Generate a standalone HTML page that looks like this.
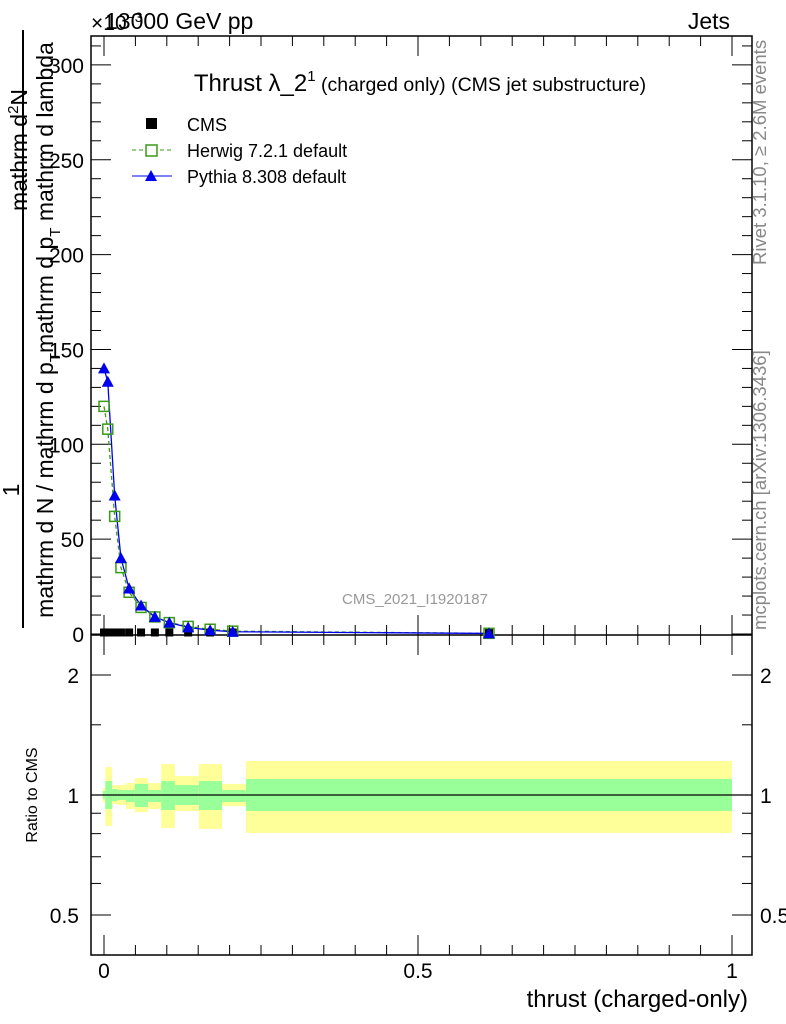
<!DOCTYPE html>
<html><head><meta charset="utf-8"><style>
body{margin:0;background:#fff}
svg{display:block;font-family:"Liberation Sans",sans-serif}
</style></head><body>
<svg id="c" width="786" height="1024" viewBox="0 0 786 1024">
<rect x="0" y="0" width="786" height="1024" fill="#fff"/>
<g id="bands"></g>
<g id="frame"></g>
<g id="series"></g>
<g id="labels">
<text x="91" y="30" font-size="21">×10<tspan font-size="14" dy="-8">−3</tspan></text>
<text x="105" y="29" font-size="23">13000 GeV pp</text>
<text x="730" y="29" font-size="23" text-anchor="end">Jets</text>
<text x="420" y="91" font-size="24" text-anchor="middle">Thrust λ_2<tspan font-size="15" dy="-10">1</tspan><tspan font-size="19.5" dy="10"> (charged only) (CMS jet substructure)</tspan></text>
<text x="415" y="604" font-size="15" fill="#999" text-anchor="middle">CMS_2021_I1920187</text>
<text transform="translate(766,265) rotate(-90)" font-size="18.5" fill="#888">Rivet 3.1.10, ≥ 2.6M events</text>
<text transform="translate(766,630) rotate(-90)" font-size="18.5" fill="#888">mcplots.cern.ch [arXiv:1306.3436]</text>
<text transform="translate(37,795) rotate(-90)" font-size="16" text-anchor="middle">Ratio to CMS</text>
<text x="748" y="1007" font-size="24" text-anchor="end">thrust (charged-only)</text>
<g>
<text transform="translate(19,490) rotate(-90)" font-size="23" text-anchor="middle">1</text>
<line x1="23" y1="30" x2="23" y2="628" stroke="#000" stroke-width="2"/>
<text transform="translate(27,150) rotate(-90)" font-size="23" text-anchor="middle">mathrm d<tspan font-size="15" dy="-9">2</tspan><tspan dy="9">N</tspan></text>
<text transform="translate(53,330) rotate(-90)" font-size="23" text-anchor="middle">mathrm d N / mathrm d p<tspan font-size="15" dy="7">T</tspan><tspan dy="-7">mathrm d p</tspan><tspan font-size="15" dy="7">T</tspan><tspan dy="-7"> mathrm d lambda</tspan></text>
</g>
<g>
<rect x="146" y="118" width="11" height="11" fill="#000"/>
<text x="187" y="131" font-size="18">CMS</text>
<line x1="132" y1="150" x2="172" y2="150" stroke="#3a9a16" stroke-dasharray="4,3"/>
<rect x="146" y="145" width="11" height="11" fill="#fff" stroke="#3a9a16" stroke-width="1.5"/>
<text x="187" y="157" font-size="18">Herwig 7.2.1 default</text>
<line x1="132" y1="176" x2="172" y2="176" stroke="#0000ee"/>
<polygon points="151,170 157,181 145,181" fill="#0000ee"/>
<text x="187" y="183" font-size="18">Pythia 8.308 default</text>
</g>
</g>
</svg>
<script>
const xs=[0.0,0.006,0.017,0.027,0.04,0.059,0.081,0.104,0.134,0.169,0.205,0.613];
const pythia=[140,133,73,40,24,15,9,6,3.5,2,1.2,0.3];
const herwig=[120,108,62,35,22,14,9,6,4,2.5,1.5,0.35];
const cms=[0.8,0.8,0.8,0.8,0.8,0.8,0.8,0.8,0.8,0.8,0.8,0.5];
const binEdges=[-0.002,0.002,0.013,0.022,0.035,0.049,0.07,0.091,0.113,0.151,0.188,0.226,1.0];
const yelHi=[1.041,1.175,1.059,1.059,1.072,1.103,1.072,1.196,1.116,1.196,1.066,1.217];
const yelLo=[0.96,0.836,0.949,0.944,0.922,0.906,0.922,0.826,0.912,0.822,0.938,0.803];
const grnHi=[1.023,1.084,1.035,1.029,1.029,1.066,1.029,1.084,1.059,1.084,1.029,1.097];
const grnLo=[0.977,0.922,0.966,0.972,0.96,0.933,0.96,0.917,0.944,0.917,0.96,0.912];
const yTicks=[0,50,100,150,200,250,300];
const rTicks=[0.5,1,2];
const xTicks=[0,0.5,1];
const NS='http://www.w3.org/2000/svg';
const X=v=>104+628*v;
const Y=v=>634-1.897*v;
const R=v=>795-120*Math.log2(v);
const L=91,Rt=752,T=36,MB=635,RB=955;
function mk(t,a,p){const e=document.createElementNS(NS,t);for(const k in a)e.setAttribute(k,a[k]);(p||document.getElementById('series')).appendChild(e);return e;}
const bg=document.getElementById('bands');
for(let i=0;i<binEdges.length-1;i++){
 const x1=X(binEdges[i]),x2=X(binEdges[i+1]);
 const y=mk('rect',{x:x1,y:R(yelHi[i]),width:x2-x1,height:R(yelLo[i])-R(yelHi[i]),fill:'#ffff99'},bg);
 
 
 const g=mk('rect',{x:x1,y:R(grnHi[i]),width:x2-x1,height:R(grnLo[i])-R(grnHi[i]),fill:'#99ff99'},bg);
 
 
}
mk('line',{x1:L,y1:R(1),x2:Rt,y2:R(1),stroke:'#000','stroke-width':1.2},bg);
const fr=document.getElementById('frame');
mk('rect',{x:L,y:T,width:Rt-L,height:RB-T,fill:'none',stroke:'#000','stroke-width':1.5},fr);
mk('line',{x1:L,y1:MB,x2:Rt,y2:MB,stroke:'#000','stroke-width':1.5},fr);
for(let v=0;v<=320;v+=10){const y=Y(v);if(y<T)break;const len=v%50===0?20:10;
 mk('line',{x1:L,y1:y,x2:L+len,y2:y,stroke:'#000'},fr);mk('line',{x1:Rt,y1:y,x2:Rt-len,y2:y,stroke:'#000'},fr);}
yTicks.forEach(v=>{const t=mk('text',{x:84,y:Y(v)+8,'font-size':21,'text-anchor':'end'},fr);t.textContent=v;
 
 });
[0.5,0.6,0.7,0.8,0.9,1,1.5,2].forEach(v=>{const y=R(v);const len=rTicks.includes(v)?20:10;
 mk('line',{x1:L,y1:y,x2:L+len,y2:y,stroke:'#000'},fr);mk('line',{x1:Rt,y1:y,x2:Rt-len,y2:y,stroke:'#000'},fr);});
rTicks.forEach(v=>{const t=mk('text',{x:79,y:R(v)+8,'font-size':21,'text-anchor':'end'},fr);t.textContent=v;
 
 
 const t2=mk('text',{x:760,y:R(v)+8,'font-size':21},fr);t2.textContent=v;
 
 });
for(let k=0;k<=20;k++){const v=k*0.05;const x=X(v);const len=k%10===0?20:10;
 [T,MB].forEach(y0=>mk('line',{x1:x,y1:y0,x2:x,y2:y0+len,stroke:'#000'},fr));
 [MB,RB].forEach(y0=>mk('line',{x1:x,y1:y0,x2:x,y2:y0-len,stroke:'#000'},fr));}
xTicks.forEach(v=>{const t=mk('text',{x:X(v),y:978,'font-size':21,'text-anchor':'middle'},fr);t.textContent=v;
 
 });
const hp=mk('polyline',{points:xs.map((x,i)=>X(x)+','+Y(herwig[i])).join(' '),fill:'none',stroke:'#3a9a16','stroke-width':1.3,'stroke-dasharray':'4,3'});


const pp=mk('polyline',{points:xs.map((x,i)=>X(x)+','+Y(pythia[i])).join(' '),fill:'none',stroke:'#0000ee','stroke-width':1.3});


xs.forEach((x,i)=>{
 const c=mk('rect',{x:X(x)-4,y:Y(cms[i])-4,width:8,height:8,fill:'#000'});
 
 
 const h=mk('rect',{x:X(x)-5,y:Y(herwig[i])-5,width:10,height:10,fill:'none',stroke:'#3a9a16','stroke-width':1.5});
 
 
 const px=X(x),py=Y(pythia[i]);
 const p=mk('polygon',{points:`${px},${py-6} ${px+6},${py+5} ${px-6},${py+5}`,fill:'#0000ee'});
 
 
});
</script>
</body></html>
